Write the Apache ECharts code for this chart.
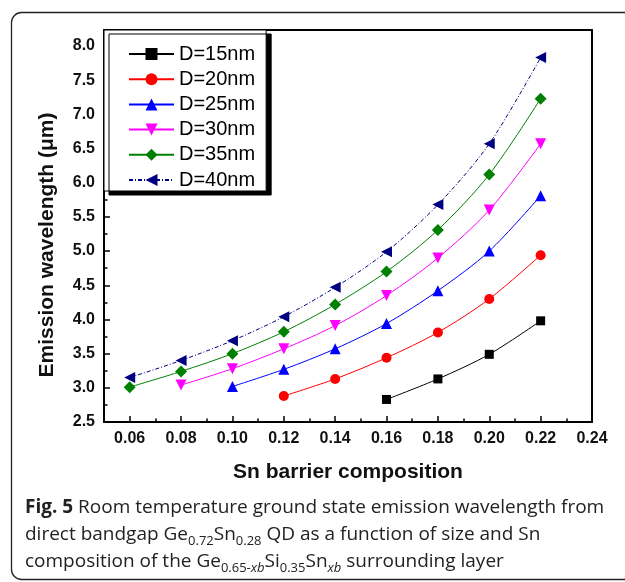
<!DOCTYPE html>
<html>
<head>
<meta charset="utf-8">
<script src="https://cdn.jsdelivr.net/npm/echarts@6/dist/echarts.min.js"></script>
<style>
  html, body { margin: 0; padding: 0; background: #fff; }
  #chart { width: 625px; height: 582px; }
</style>
</head>
<body>
<div id="chart"></div>
<script>
// Sn barrier composition (x)
var xValues = [0.06, 0.08, 0.10, 0.12, 0.14, 0.16, 0.18, 0.20, 0.22];
// emission wavelength (um) per QD size, null = no point
var d15 = [null, null, null, null, null, 2.83, 3.13, 3.49, 3.98];
var d20 = [null, null, null, 2.88, 3.13, 3.44, 3.81, 4.30, 4.94];
var d25 = [null, null, 3.02, 3.27, 3.57, 3.94, 4.42, 5.00, 5.81];
var d30 = [null, 3.04, 3.28, 3.57, 3.91, 4.35, 4.90, 5.60, 6.57];
var d35 = [3.01, 3.24, 3.50, 3.82, 4.22, 4.70, 5.31, 6.12, 7.23];
var d40 = [3.15, 3.40, 3.69, 4.04, 4.47, 4.99, 5.68, 6.57, 7.83];

var seriesNames = ['D=15nm', 'D=20nm', 'D=25nm', 'D=30nm', 'D=35nm', 'D=40nm'];

var xTicks = [0.06, 0.08, 0.10, 0.12, 0.14, 0.16, 0.18, 0.20, 0.22, 0.24];
var xMinor = [0.07, 0.09, 0.11, 0.13, 0.15, 0.17, 0.19, 0.21, 0.23];
var yTicks = [2.5, 3.0, 3.5, 4.0, 4.5, 5.0, 5.5, 6.0, 6.5, 7.0, 7.5, 8.0];
var yMinor = [2.75, 3.25, 3.75, 4.25, 4.75, 5.25, 5.75, 6.25, 6.75, 7.25, 7.75];

function pairs(vals) {
  var out = [];
  vals.forEach(function (v, i) {
    if (v !== null) out.push([xValues[i], v]);
  });
  return out;
}

var styles = [
  { color: '#000000', symbol: 'rect', size: 9, rotate: 0, line: 'solid' },
  { color: '#ff0000', symbol: 'circle', size: 10, rotate: 0, line: 'solid' },
  { color: '#0000ff', symbol: 'triangle', size: 11, rotate: 0, line: 'solid' },
  { color: '#ff00ff', symbol: 'triangle', size: 11, rotate: 180, line: 'solid' },
  { color: '#008000', symbol: 'diamond', size: 12, rotate: 0, line: 'solid' },
  { color: '#000080', symbol: 'triangle', size: 11, rotate: 90, line: [4, 2, 1, 2] }
];
var allData = [d15, d20, d25, d30, d35, d40];

var series = allData.map(function (vals, i) {
  var s = styles[i];
  return {
    name: seriesNames[i],
    type: 'line',
    xAxisIndex: 0,
    yAxisIndex: 0,
    data: pairs(vals),
    smooth: 0.3,
    symbol: s.symbol,
    symbolSize: s.size,
    symbolRotate: s.rotate,
    showAllSymbol: true,
    itemStyle: { color: s.color },
    lineStyle: { color: s.color, width: 1, type: s.line },
    emphasis: { disabled: true },
    animation: false
  };
});

var axisFont = { fontFamily: 'Liberation Sans', fontWeight: 'bold', fontSize: 16, color: '#111' };

var chart = echarts.init(document.getElementById('chart'));
chart.setOption({
  backgroundColor: '#fff',
  animation: false,
  grid: {
    left: 104, right: 33, top: 30, bottom: 160,
    show: true, borderColor: '#000', borderWidth: 2, backgroundColor: 'transparent'
  },
  legend: {
    data: seriesNames,
    orient: 'vertical',
    left: 104,
    top: 30,
    padding: [14, 11, 1, 24],
    itemWidth: 45,
    itemHeight: 15,
    itemGap: 5.2,
    backgroundColor: '#fff',
    borderColor: '#000',
    borderWidth: 1,
    shadowColor: '#000',
    shadowBlur: 0,
    shadowOffsetX: 5,
    shadowOffsetY: 4,
    textStyle: { fontFamily: 'Liberation Sans', fontSize: 20, color: '#000', lineHeight: 20 }
  },
  xAxis: [{
    type: 'value',
    min: 0.05,
    max: 0.24,
    position: 'bottom',
    axisLine: { show: true, lineStyle: { color: '#000', width: 2 } },
    axisTick: { show: true, inside: true, length: 6, lineStyle: { color: '#000', width: 1.5 }, customValues: xTicks },
    axisLabel: Object.assign({ margin: 9, customValues: xTicks, formatter: function (v) { return v.toFixed(2); } }, axisFont),
    splitLine: { show: false }
  }, {
    type: 'value',
    min: 0.05,
    max: 0.24,
    position: 'bottom',
    offset: 0,
    axisLine: { show: false },
    axisTick: { show: true, inside: true, length: 3.5, lineStyle: { color: '#000', width: 1.5 }, customValues: xMinor },
    axisLabel: { show: false },
    splitLine: { show: false }
  }],
  yAxis: [{
    type: 'value',
    min: 2.5,
    max: 8.234,
    position: 'left',
    axisLine: { show: true, lineStyle: { color: '#000', width: 2 } },
    axisTick: { show: true, inside: true, length: 6, lineStyle: { color: '#000', width: 1.5 }, customValues: yTicks },
    axisLabel: Object.assign({ margin: 9, customValues: yTicks, formatter: function (v) { return v.toFixed(1); } }, axisFont),
    splitLine: { show: false }
  }, {
    type: 'value',
    min: 2.5,
    max: 8.234,
    position: 'left',
    offset: 0,
    axisLine: { show: false },
    axisTick: { show: true, inside: true, length: 3.5, lineStyle: { color: '#000', width: 1.5 }, customValues: yMinor },
    axisLabel: { show: false },
    splitLine: { show: false }
  }],
  series: series,
  graphic: [
    {
      type: 'rect',
      shape: { x: 11.5, y: 12.5, width: 700, height: 567, r: 10 },
      style: { fill: 'none', stroke: '#222', lineWidth: 1.3 },
      silent: true, z: -10
    },
    {
      type: 'text',
      x: 47, y: 245,
      rotation: Math.PI / 2,
      style: {
        text: 'Emission wavelength (\u03bcm)',
        font: 'bold 21px "Liberation Sans"',
        fill: '#111',
        align: 'center',
        verticalAlign: 'middle'
      }
    },
    {
      type: 'text',
      x: 348, y: 472,
      style: {
        text: 'Sn barrier composition',
        font: 'bold 21px "Liberation Sans"',
        fill: '#111',
        align: 'center',
        verticalAlign: 'middle'
      }
    },
    {
      type: 'text',
      x: 25, y: 494,
      style: {
        text: '{b|Fig. 5} Room temperature ground state emission wavelength from\n' +
              'direct bandgap Ge{s|0.72}Sn{s|0.28} QD as a function of size and Sn\n' +
              'composition of the Ge{s|0.65-}{si|xb}Si{s|0.35}Sn{si|xb} surrounding layer',
        fontFamily: 'Open Sans',
        fontSize: 19,
        lineHeight: 27,
        fill: '#222',
        align: 'left',
        verticalAlign: 'top',
        rich: {
          b: { fontFamily: 'Open Sans', fontSize: 19, fontWeight: 'bold', lineHeight: 27, fill: '#222' },
          s: { fontFamily: 'Open Sans', fontSize: 13, lineHeight: 16, verticalAlign: 'bottom', fill: '#222' },
          si: { fontFamily: 'Open Sans', fontSize: 13, fontStyle: 'italic', lineHeight: 16, verticalAlign: 'bottom', fill: '#222' }
        }
      }
    }
  ]
});
</script>
</body>
</html>
